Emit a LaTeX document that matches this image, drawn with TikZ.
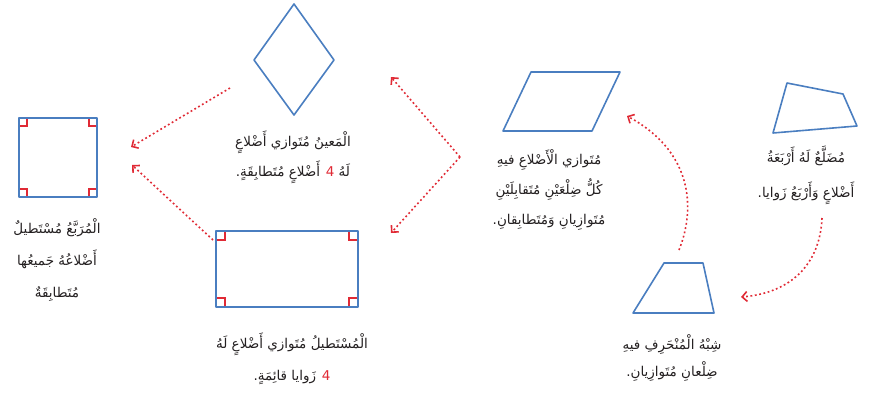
\documentclass[tikz,border=0pt]{standalone}
\usepackage{fontspec}
\newfontfamily\arabicfont[Script=Arabic]{DejaVu Sans}
\TeXXeTstate=1
\usetikzlibrary{arrows.meta}
\definecolor{shapeblue}{HTML}{4A7EC0}
\definecolor{arrred}{HTML}{E02A35}
\definecolor{txt}{HTML}{231F20}
\newcommand{\rtl}[1]{\beginR #1\endR}
\begin{document}
\begin{tikzpicture}[x=1pt,y=-1pt,
  shapeline/.style={draw=shapeblue, line width=1.6pt, line join=round},
  rmark/.style={draw=arrred, line width=1.2pt},
  conn/.style={draw=arrred, line width=1.6pt, dash pattern=on 1.8pt off 2.6pt},
  tip/.style={-{Straight Barb[angle=90:7pt, line width=1.6pt]}},
  lbl/.style={font=\arabicfont\fontsize{13.5}{#1}\selectfont, align=center, text=txt, inner sep=0pt},
  lbl/.default=30]
\useasboundingbox (0,0) rectangle (883,392);

% quadrilateral
\draw[shapeline] (787,83) -- (843,94) -- (857,126) -- (773,133) -- cycle;
\node[lbl=35] (quad) at (806,175) {\rtl{مُضَلَّعٌ لَهُ أَرْبَعَةُ}\\\rtl{أَضْلاعٍ وَأَرْبَعُ زَوايا.}};

% parallelogram
\draw[shapeline] (531,72) -- (620,72) -- (592,131) -- (503,131) -- cycle;
\node[lbl=30] (para) at (549,190) {\rtl{مُتَوازي الْأَضْلاعِ فيهِ}\\\rtl{كُلُّ ضِلْعَيْنِ مُتَقابِلَيْنِ}\\\rtl{مُتَوازِيانِ وَمُتَطابِقانِ.}};

% rhombus
\draw[shapeline] (294,4) -- (334,60) -- (294,115) -- (254,60) -- cycle;
\node[lbl=30] (rhomb) at (293,157) {\rtl{الْمَعينُ مُتَوازي أَضْلاعٍ}\\\rtl{أَضْلاعٍ مُتَطابِقَةٍ.} \textcolor{arrred}{4} \rtl{لَهُ}};

% square
\draw[shapeline] (19,118) rectangle (97,197);
\draw[rmark] (20,126) -- (27,126) -- (27,119);
\draw[rmark] (96,126) -- (89,126) -- (89,119);
\draw[rmark] (20,189) -- (27,189) -- (27,196);
\draw[rmark] (96,189) -- (89,189) -- (89,196);
\node[lbl=32] (sq) at (57,260) {\rtl{الْمُرَبَّعُ مُسْتَطيلٌ}\\\rtl{أَضْلاعُهُ جَميعُها}\\\rtl{مُتَطابِقَةٌ}};

% rectangle
\draw[shapeline] (216,231) rectangle (358,307);
\draw[rmark] (217,240) -- (225,240) -- (225,232);
\draw[rmark] (357,240) -- (349,240) -- (349,232);
\draw[rmark] (217,298) -- (225,298) -- (225,306);
\draw[rmark] (357,298) -- (349,298) -- (349,306);
\node[lbl=32] (rect) at (292,359) {\rtl{الْمُسْتَطيلُ مُتَوازي أَضْلاعٍ لَهُ}\\\rtl{زَوايا قائِمَةٍ.} \textcolor{arrred}{4}};

% trapezoid
\draw[shapeline] (664,263) -- (703,263) -- (714,313) -- (633,313) -- cycle;
\node[lbl=27] (trap) at (672,358) {\rtl{شِبْهُ الْمُنْحَرِفِ فيهِ}\\\rtl{ضِلْعانِ مُتَوازِيانِ.}};

% connector end points
\coordinate (qS) at (822,218);
\coordinate (tE) at (741,297);
\coordinate (tS) at (679,250);
\coordinate (pE) at (627,116);
\coordinate (pV) at (460,157);
\coordinate (rhE) at (391,77);
\coordinate (reE) at (391,233);
\coordinate (rhS) at (230,88);
\coordinate (reS) at (213,240);
\coordinate (sqE1) at (131,147);
\coordinate (sqE2) at (132,165);

\draw[conn, tip] (qS) .. controls (820,265) and (790,293) .. (tE);
\draw[conn, tip] (tS) .. controls (697,205) and (690,150) .. (pE);
\draw[conn, tip] (pV) -- (rhE);
\draw[conn, tip] (pV) -- (reE);
\draw[conn, tip] (rhS) -- (sqE1);
\draw[conn, tip] (reS) -- (sqE2);
\end{tikzpicture}
\end{document}
